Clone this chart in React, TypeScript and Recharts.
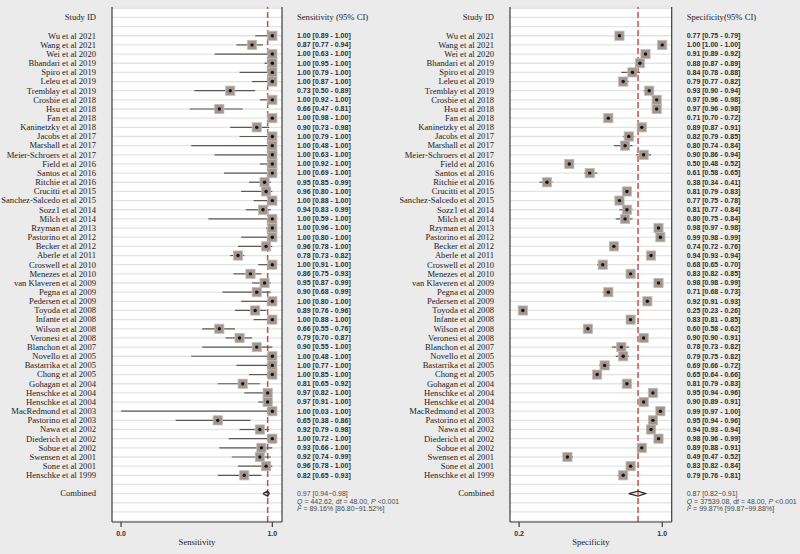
import {
  ComposedChart,
  Scatter,
  ErrorBar,
  XAxis,
  YAxis,
  CartesianGrid,
  ReferenceLine,
  Label,
} from 'recharts'

const studies = [
  'Wu et al 2021', 'Wang et al 2021', 'Wei et al 2020', 'Bhandari et al 2019',
  'Spiro et al 2019', 'Leleu et al 2019', 'Tremblay et al 2019', 'Crosbie et al 2018',
  'Hsu et al 2018', 'Fan et al 2018', 'Kaninetzky et al 2018', 'Jacobs et al 2017',
  'Marshall et al 2017', 'Meier-Schroers et al 2017', 'Field et al 2016', 'Santos et al 2016',
  'Ritchie et al 2016', 'Crucitti et al 2015', 'Sanchez-Salcedo et al 2015', 'Sozz1 et al 2014',
  'Milch et al 2014', 'Rzyman et al 2013', 'Pastorino et al 2012', 'Becker et al 2012',
  'Aberle et al 2011', 'Croswell et al 2010', 'Menezes et al 2010', 'van Klaveren et al 2009',
  'Pegna et al 2009', 'Pedersen et al 2009', 'Toyoda et al 2008', 'Infante et al 2008',
  'Wilson et al 2008', 'Veronesi et al 2008', 'Blanchon et al 2007', 'Novello et al 2005',
  'Bastarrika et al 2005', 'Chong et al 2005', 'Gohagan et al 2004', 'Henschke et al 2004',
  'Henschke et al 2004', 'MacRedmond et al 2003', 'Pastorino et al 2003', 'Nawa et al 2002',
  'Diederich et al 2002', 'Sobue et al 2002', 'Swensen et al 2001', 'Sone et al 2001',
  'Henschke et al 1999',
]

const sensEst = [
  1.0, 0.87, 1.0, 1.0, 1.0, 1.0, 0.73, 1.0, 0.66, 1.0, 0.9, 1.0, 1.0, 1.0, 1.0, 1.0, 0.95,
  0.96, 1.0, 0.94, 1.0, 1.0, 1.0, 0.96, 0.78, 1.0, 0.86, 0.95, 0.9, 1.0, 0.89, 1.0, 0.66,
  0.79, 0.9, 1.0, 1.0, 1.0, 0.81, 0.97, 0.97, 1.0, 0.65, 0.92, 1.0, 0.93, 0.92, 0.96, 0.82,
]
const sensLow = [
  0.89, 0.77, 0.63, 0.95, 0.79, 0.87, 0.5, 0.92, 0.47, 0.98, 0.73, 0.79, 0.48, 0.63, 0.92,
  0.69, 0.85, 0.8, 0.88, 0.83, 0.59, 0.96, 0.8, 0.78, 0.73, 0.91, 0.75, 0.87, 0.68, 0.8,
  0.76, 0.88, 0.55, 0.7, 0.55, 0.48, 0.77, 0.85, 0.65, 0.82, 0.91, 0.03, 0.38, 0.79, 0.72,
  0.66, 0.74, 0.78, 0.65,
]
const sensHigh = [
  1.0, 0.94, 1.0, 1.0, 1.0, 1.0, 0.89, 1.0, 0.81, 1.0, 0.98, 1.0, 1.0, 1.0, 1.0, 1.0, 0.99,
  1.0, 1.0, 0.99, 1.0, 1.0, 1.0, 1.0, 0.82, 1.0, 0.93, 0.99, 0.99, 1.0, 0.96, 1.0, 0.76,
  0.87, 1.0, 1.0, 1.0, 1.0, 0.92, 1.0, 1.0, 1.0, 0.86, 0.98, 1.0, 1.0, 0.99, 1.0, 0.93,
]

const specEst = [
  0.77, 1.0, 0.91, 0.88, 0.84, 0.79, 0.93, 0.97, 0.97, 0.71, 0.89, 0.82, 0.8, 0.9, 0.5, 0.61,
  0.38, 0.81, 0.77, 0.81, 0.8, 0.98, 0.99, 0.74, 0.94, 0.68, 0.83, 0.98, 0.71, 0.92, 0.25,
  0.83, 0.6, 0.9, 0.78, 0.79, 0.69, 0.65, 0.81, 0.95, 0.9, 0.99, 0.95, 0.94, 0.98, 0.89,
  0.49, 0.83, 0.79,
]
const specLow = [
  0.75, 1.0, 0.89, 0.87, 0.78, 0.77, 0.9, 0.96, 0.96, 0.7, 0.87, 0.79, 0.74, 0.86, 0.48,
  0.58, 0.34, 0.79, 0.75, 0.77, 0.75, 0.97, 0.98, 0.72, 0.93, 0.65, 0.82, 0.98, 0.68, 0.91,
  0.23, 0.81, 0.58, 0.9, 0.73, 0.75, 0.66, 0.64, 0.79, 0.94, 0.89, 0.97, 0.94, 0.93, 0.96,
  0.88, 0.47, 0.82, 0.76,
]
const specHigh = [
  0.79, 1.0, 0.92, 0.89, 0.88, 0.82, 0.94, 0.98, 0.98, 0.72, 0.91, 0.85, 0.84, 0.94, 0.52,
  0.65, 0.41, 0.83, 0.78, 0.84, 0.84, 0.98, 0.99, 0.76, 0.94, 0.7, 0.85, 0.99, 0.73, 0.93,
  0.26, 0.85, 0.62, 0.91, 0.82, 0.82, 0.72, 0.66, 0.83, 0.96, 0.91, 1.0, 0.96, 0.94, 0.99,
  0.91, 0.52, 0.84, 0.81,
]

// pooled estimate, lower, upper
const sensPooled = [0.97, 0.94, 0.98]
const specPooled = [0.87, 0.82, 0.91]
// Q, df, I2, I2 interval
const sensStats = ['442.62', '48.00', '89.16%', '86.80\u221291.52%']
const specStats = ['37539.08', '48.00', '99.87%', '99.87\u221299.88%']

const sensTicks = [0.03, 1.0]
const specTicks = [0.23, 1.0]

const HEADER_ROW = -2
const COMBINED_ROW = 50
const rowTicks = Array.from({ length: 57 }, (_, i) => i - 3)
const yDomain = [-3.14, 53.1]

const SERIF = '"Liberation Serif", "DejaVu Serif", serif'
const SANS = '"Liberation Sans", Arial, sans-serif'
const BORDER = '#3c3c3c'

const fmt = (v: number) => v.toFixed(2)

function Square(props: any) {
  const { cx, cy } = props
  if (cx == null || cy == null) return <g />
  return (
    <g>
      <rect x={cx - 4.6} y={cy - 4.6} width={9.2} height={9.2} fill="#a0958f" stroke="#c2bab5" strokeWidth={0.8} />
      <circle cx={cx} cy={cy} r={1.7} fill="#151515" />
    </g>
  )
}

const Empty = () => <g />

interface PanelProps {
  left: number
  plotLeft: number
  plotRight: number
  domain: number[]
  ticks: number[]
  est: number[]
  low: number[]
  high: number[]
  pooled: number[]
  stats: string[]
  header: string
  axisTitle: string
}

function Panel({
  left,
  plotLeft,
  plotRight,
  domain,
  ticks,
  est,
  low,
  high,
  pooled,
  stats,
  header,
  axisTitle,
}: PanelProps) {
  const rows = est.map((v, i) => ({ row: i, x: v, err: [v - low[i], high[i] - v] }))
  const diamond = [
    { x: pooled[1], row: COMBINED_ROW },
    { x: pooled[0], row: COMBINED_ROW - 0.27 },
    { x: pooled[2], row: COMBINED_ROW },
    { x: pooled[0], row: COMBINED_ROW + 0.27 },
    { x: pooled[1], row: COMBINED_ROW },
  ]

  const NameTick = (p: any) => {
    const r = p.payload.value
    let label = ''
    if (r >= 0 && r < studies.length) label = studies[r]
    if (r === HEADER_ROW) label = 'Study ID'
    if (r === COMBINED_ROW) label = 'Combined'
    if (!label) return <g />
    return (
      <text x={p.x} y={p.y} dy="0.33em" textAnchor="end" fontFamily={SERIF} fontSize={8.6} fill="#222">
        {label}
      </text>
    )
  }

  const ValueTick = (p: any) => {
    const r = p.payload.value
    if (r === HEADER_ROW) {
      return (
        <text x={p.x} y={p.y} dy="0.33em" fontFamily={SERIF} fontSize={8.6} fill="#222">
          {header}
        </text>
      )
    }
    if (r === COMBINED_ROW) {
      return (
        <text x={p.x} y={p.y} dy="0.33em" fontFamily={SANS} fontSize={7} fill="#4a4a4a">
          <tspan x={p.x}>
            {fmt(pooled[0])} [{fmt(pooled[1])}{'\u2212'}{fmt(pooled[2])}]
          </tspan>
          <tspan x={p.x} dy={7.6}>
            <tspan fontStyle="italic">Q</tspan> = {stats[0]}, df = {stats[1]},{' '}
            <tspan fontStyle="italic">P</tspan> {'<0.001'}
          </tspan>
          <tspan x={p.x} dy={7.6}>
            <tspan fontStyle="italic">I</tspan>
            <tspan fontSize={4.5} dy={-2.5}>2</tspan>
            <tspan dy={2.5}> = {stats[2]} [{stats[3]}]</tspan>
          </tspan>
        </text>
      )
    }
    if (r < 0 || r >= est.length) return <g />
    return (
      <text x={p.x} y={p.y} dy="0.33em" fontFamily={SANS} fontSize={7} fontWeight={700} fill="#2e2e2e">
        {fmt(est[r])} [{fmt(low[r])} - {fmt(high[r])}]
      </text>
    )
  }

  return (
    <div style={{ position: 'absolute', left, top: 0 }}>
      <ComposedChart
        width={400}
        height={554}
        margin={{ top: 7, right: 400 - plotRight - 1, bottom: 2, left: plotLeft - 1 }}
      >
        <CartesianGrid
          yAxisId="l"
          vertical={false}
          stroke="#e4e4e4"
          strokeWidth={1.3}
          fill="#ffffff"
        />
        <XAxis
          type="number"
          dataKey="x"
          domain={domain}
          allowDataOverflow
          ticks={ticks}
          tickFormatter={(v) => Number(v).toFixed(1)}
          height={30}
          tickSize={5}
          tickMargin={4}
          axisLine={{ stroke: BORDER, strokeWidth: 1.2 }}
          tickLine={{ stroke: BORDER, strokeWidth: 1.2 }}
          tick={{ fontSize: 7, fontWeight: 700, fill: '#333', fontFamily: SANS }}
        >
          <Label
            value={axisTitle}
            position="insideBottom"
            offset={7}
            fontSize={8.6}
            fontFamily={SERIF}
            fill="#222"
          />
        </XAxis>
        <YAxis
          yAxisId="l"
          type="number"
          dataKey="row"
          domain={yDomain}
          allowDataOverflow
          reversed
          ticks={rowTicks}
          interval={0}
          width={1}
          tickSize={0}
          tickMargin={16}
          tickLine={false}
          axisLine={{ stroke: BORDER, strokeWidth: 1.2 }}
          tick={NameTick}
        />
        <YAxis
          yAxisId="r"
          orientation="right"
          type="number"
          dataKey="row"
          domain={yDomain}
          allowDataOverflow
          reversed
          ticks={rowTicks}
          interval={0}
          width={1}
          tickSize={0}
          tickMargin={15}
          tickLine={false}
          axisLine={{ stroke: BORDER, strokeWidth: 1.2 }}
          tick={ValueTick}
        />
        <ReferenceLine
          yAxisId="l"
          x={pooled[0]}
          stroke="#c4504a"
          strokeWidth={1.5}
          strokeDasharray="6 3"
        />
        <Scatter yAxisId="l" data={rows} shape={Empty} isAnimationActive={false}>
          <ErrorBar dataKey="err" direction="x" width={0} stroke="#605755" strokeWidth={1.2} />
        </Scatter>
        <Scatter yAxisId="l" data={rows} shape={Square} isAnimationActive={false} />
        <Scatter
          yAxisId="l"
          data={diamond}
          shape={Empty}
          line={{ stroke: '#2a2a2a', strokeWidth: 1.3 }}
          lineJointType="linear"
          isAnimationActive={false}
        />
      </ComposedChart>
    </div>
  )
}

export default function App() {
  return (
    <div
      style={{
        position: 'absolute',
        left: 0,
        top: 0,
        width: 800,
        height: 554,
        background: '#ebebeb',
        overflow: 'hidden',
      }}
    >
      <Panel
        left={0}
        plotLeft={112}
        plotRight={282}
        domain={[-0.028, 1.062]}
        ticks={sensTicks}
        est={sensEst}
        low={sensLow}
        high={sensHigh}
        pooled={sensPooled}
        stats={sensStats}
        header="Sensitivity (95% CI)"
        axisTitle="Sensitivity"
      />
      <Panel
        left={400}
        plotLeft={110}
        plotRight={271.7}
        domain={[0.181, 1.051]}
        ticks={specTicks}
        est={specEst}
        low={specLow}
        high={specHigh}
        pooled={specPooled}
        stats={specStats}
        header="Specificity(95% CI)"
        axisTitle="Specificity"
      />
    </div>
  )
}
